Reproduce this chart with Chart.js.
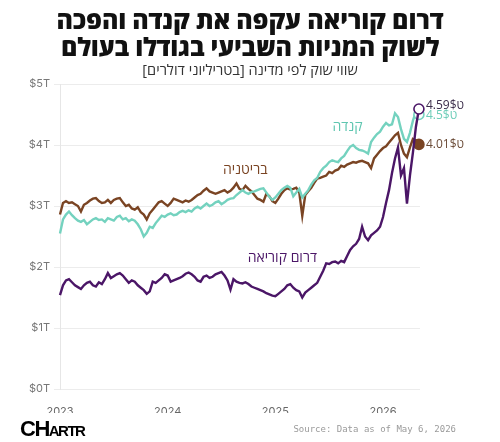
<!DOCTYPE html>
<html lang="he">
<head>
<meta charset="utf-8">
<script src="https://cdn.jsdelivr.net/npm/chart.js@4/dist/chart.umd.min.js"></script>
<style>
  html,body{margin:0;padding:0;background:#fff;}
  #wrap{position:relative;width:500px;height:442px;overflow:hidden;background:#fff;}
  #c{position:absolute;left:0;top:0;}
  .title{position:absolute;left:0;width:500px;text-align:center;direction:rtl;
    font-family:"Open Sans","Liberation Sans",sans-serif;font-weight:800;color:#111;
    font-size:25px;line-height:27px;letter-spacing:-0.2px;}
  #sub{position:absolute;left:0;width:500px;text-align:center;direction:rtl;top:60px;
    font-family:"Open Sans","Liberation Sans",sans-serif;font-size:14.5px;color:#333;}
  #logo{position:absolute;left:20px;top:416px;font-family:"Liberation Sans",Arial,sans-serif;
    font-weight:900;color:#000;letter-spacing:-1.5px;}
  #src{position:absolute;right:44px;top:424px;font-family:"DejaVu Sans Mono","Liberation Mono",monospace;
    font-size:9px;color:#9a9a9a;}
</style>
</head>
<body>
<div id="wrap">
  <canvas id="c" width="500" height="442"></canvas>
  <div class="title" style="top:6px">דרום קוריאה עקפה את קנדה והפכה</div>
  <div class="title" style="top:33px">לשוק המניות השביעי בגודלו בעולם</div>
  <div id="sub">שווי שוק לפי מדינה [בטריליוני דולרים]</div>
  <div id="logo"><span style="font-size:22px">CH</span><span style="font-size:15px">ARTR</span></div>
  <div id="src">Source: Data as of May 6, 2026</div>
</div>
<script>
// one reading roughly every 10 days, from Jan 2023 to early May 2026
const START_YEAR = 2023;
const STEPS_PER_YEAR = 36;

const southKorea = [1.54,1.70,1.78,1.80,1.75,1.70,1.67,1.64,1.70,1.74,1.76,1.70,1.68,1.75,1.72,1.80,1.90,1.82,1.85,1.88,
1.90,1.86,1.80,1.74,1.78,1.76,1.70,1.66,1.62,1.56,1.60,1.76,1.74,1.78,1.82,1.88,1.86,1.76,1.78,1.80,
1.82,1.85,1.89,1.91,1.88,1.84,1.78,1.76,1.84,1.86,1.82,1.84,1.88,1.90,1.92,1.86,1.78,1.63,1.80,1.76,
1.74,1.73,1.75,1.72,1.68,1.66,1.64,1.62,1.60,1.57,1.55,1.53,1.52,1.56,1.60,1.64,1.70,1.72,1.66,1.62,
1.60,1.50,1.58,1.62,1.66,1.70,1.74,1.84,1.94,2.06,2.05,2.08,2.09,2.06,2.10,2.08,2.18,2.28,2.34,2.38,
2.46,2.66,2.50,2.44,2.52,2.56,2.60,2.66,2.82,3.05,3.26,3.54,3.78,3.96,3.50,3.62,3.04,3.50,3.88,4.30,4.59];

const canada = [2.55,2.78,2.86,2.91,2.85,2.80,2.76,2.74,2.77,2.70,2.74,2.78,2.80,2.77,2.78,2.74,2.80,2.78,2.76,2.82,
2.84,2.78,2.80,2.75,2.78,2.76,2.70,2.62,2.50,2.56,2.66,2.64,2.72,2.78,2.84,2.82,2.86,2.88,2.85,2.86,
2.90,2.92,2.90,2.93,2.91,2.96,2.99,2.96,3.00,3.04,3.00,3.02,3.06,3.08,3.03,3.06,3.10,3.12,3.13,3.18,
3.22,3.26,3.22,3.20,3.23,3.24,3.26,3.28,3.29,3.22,3.15,3.10,3.14,3.20,3.26,3.30,3.33,3.30,3.16,3.22,
3.28,3.14,3.20,3.26,3.35,3.42,3.46,3.56,3.62,3.66,3.72,3.75,3.73,3.72,3.78,3.82,3.90,3.97,4.00,3.95,
3.92,3.91,3.89,3.86,4.05,4.12,4.18,4.22,4.30,4.36,4.32,4.34,4.52,4.46,4.26,4.10,4.05,4.20,4.40,4.55,4.50];

const britain = [2.86,3.05,3.08,3.05,3.06,3.03,3.00,2.91,3.02,3.05,3.09,3.12,3.13,3.08,3.05,3.06,3.10,3.05,3.10,3.12,
3.13,3.06,3.00,3.02,2.96,2.94,2.98,2.90,2.86,2.78,2.88,2.94,3.00,3.06,3.08,3.04,3.00,3.05,3.12,3.10,
3.08,3.06,3.09,3.07,3.10,3.14,3.18,3.20,3.25,3.29,3.24,3.22,3.20,3.22,3.24,3.26,3.22,3.25,3.30,3.37,
3.28,3.26,3.33,3.28,3.24,3.18,3.12,3.10,3.07,3.20,3.16,3.08,3.05,3.12,3.20,3.26,3.29,3.27,3.28,3.30,
3.22,2.84,3.18,3.24,3.30,3.38,3.45,3.46,3.48,3.50,3.56,3.54,3.58,3.60,3.66,3.64,3.68,3.70,3.72,3.71,
3.73,3.74,3.72,3.70,3.62,3.78,3.84,3.90,3.95,3.98,4.04,4.10,4.16,4.20,4.00,3.86,3.80,3.96,4.10,4.08,4.01];

const seriesNames = ['דרום קוריאה','קנדה','בריטניה'];
const endLabels = ['4.59$ט','4.5$ט','4.01$ט'];
const yTicks = [0,1,2,3,4,5];
const yearTicks = [2023,2024,2025,2026];

const COL_KOR = '#4b1667', COL_CAN = '#74d2bf', COL_GBR = '#7a4423';

const toXY = arr => arr.map((v,i)=>({x: START_YEAR + i/STEPS_PER_YEAR, y: v}));
const lastIdx = southKorea.length - 1;

function mk(label, arr, color, pBg){
  return {
    label, data: toXY(arr), borderColor: color, borderWidth: 2.4,
    tension: 0, fill:false, clip:false,
    pointRadius: ctx => ctx.dataIndex === lastIdx ? 5 : 0,
    pointBackgroundColor: pBg, pointBorderColor: color, pointBorderWidth: 1.6,
    pointHoverRadius: 0
  };
}

const labelPlugin = {
  id:'labels',
  afterDatasetsDraw(chart){
    const {ctx, scales:{x,y}} = chart;
    ctx.save();
    const inline = [
      {t: seriesNames[0], xv: 2025.065, yv: 2.15, c: COL_KOR},
      {t: seriesNames[1], xv: 2025.67, yv: 4.30, c: '#5fc6b0'},
      {t: seriesNames[2], xv: 2024.72, yv: 3.59, c: COL_GBR}
    ];
    ctx.font = '14px "Open Sans","Liberation Sans",sans-serif';
    ctx.textAlign = 'center'; ctx.textBaseline = 'middle';
    ctx.direction = 'rtl';
    inline.forEach(l=>{ ctx.fillStyle = l.c; ctx.fillText(l.t, x.getPixelForValue(l.xv), y.getPixelForValue(l.yv)); });
    ctx.direction = 'ltr'; ctx.textAlign = 'left';
    ctx.font = '12px "Open Sans","Liberation Sans",sans-serif';
    const ends = [
      {t:endLabels[0], v:southKorea[lastIdx], c:'#3b2c4a', dy:-3},
      {t:endLabels[1], v:canada[lastIdx], c:'#6ccdb8', dy:1},
      {t:endLabels[2], v:britain[lastIdx], c:'#6a4a36', dy:0}
    ];
    const xe = x.getPixelForValue(START_YEAR + lastIdx/STEPS_PER_YEAR) + 7;
    ends.forEach(e=>{ ctx.fillStyle = e.c; ctx.fillText(e.t, xe, y.getPixelForValue(e.v)+e.dy); });
    ctx.restore();
  }
};

new Chart(document.getElementById('c'), {
  type:'line',
  data:{ datasets:[
    mk(seriesNames[0], southKorea, COL_KOR, '#ffffff'),
    mk(seriesNames[1], canada, COL_CAN, '#ffffff'),
    mk(seriesNames[2], britain, COL_GBR, COL_GBR)
  ]},
  options:{
    responsive:false, animation:false, devicePixelRatio:1,
    layout:{padding:{left:0, top:84, right:80, bottom:29}},
    plugins:{legend:{display:false}, tooltip:{enabled:false}},
    scales:{
      x:{
        type:'linear', min:2023, max: START_YEAR + lastIdx/STEPS_PER_YEAR + 0.01,
        afterFit(s){ s.height = 24; },
        afterBuildTicks(s){ s.ticks = yearTicks.map(v=>({value:v})); },
        grid:{display:false}, border:{display:false},
        ticks:{padding:8, color:'#666', font:{family:'Inter, Roboto, sans-serif', size:11}, callback:v=>String(v), maxRotation:0}
      },
      y:{
        min:0, max:5,
        afterFit(s){ s.width = 60; },
        afterBuildTicks(s){ s.ticks = yTicks.map(v=>({value:v})); },
        grid:{color:'#ececec', lineWidth:1, tickLength:6},
        border:{display:true, color:'#e6e6e6'},
        ticks:{padding:4, color:'#777', font:{family:'Inter, Roboto, sans-serif', size:11}, callback:v=>'$'+v+'T'}
      }
    }
  },
  plugins:[labelPlugin]
});
</script>
</body>
</html>
